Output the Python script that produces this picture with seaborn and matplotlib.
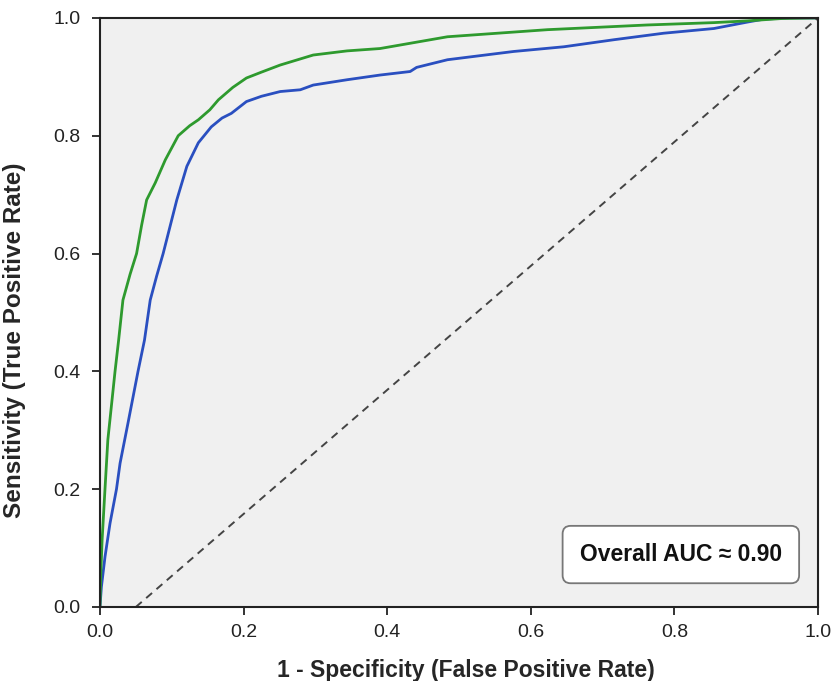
import numpy as np
import pandas as pd
import seaborn as sns
import matplotlib.pyplot as plt

# ROC points (FPR, TPR)
green_fpr = [0.0, 0.001, 0.003, 0.007, 0.011, 0.021, 0.026, 0.032, 0.042, 0.051, 0.058,
             0.065, 0.077, 0.091, 0.109, 0.125, 0.137, 0.153, 0.165, 0.185, 0.204,
             0.225, 0.251, 0.297, 0.344, 0.39, 0.484, 0.623, 0.762, 0.855, 0.902,
             0.95, 1.0]
green_tpr = [0.0, 0.05, 0.114, 0.2, 0.284, 0.4, 0.453, 0.521, 0.565, 0.6, 0.648,
             0.691, 0.72, 0.759, 0.8, 0.817, 0.827, 0.844, 0.861, 0.882, 0.898,
             0.908, 0.92, 0.937, 0.944, 0.948, 0.968, 0.98, 0.988, 0.992, 0.995,
             0.999, 1.0]

blue_fpr = [0.0, 0.002, 0.007, 0.014, 0.023, 0.028, 0.039, 0.053, 0.062, 0.07, 0.079,
            0.088, 0.107, 0.121, 0.137, 0.155, 0.17, 0.183, 0.204, 0.225, 0.251,
            0.279, 0.297, 0.344, 0.39, 0.432, 0.441, 0.484, 0.576, 0.646, 0.716,
            0.785, 0.855, 0.902, 0.925, 0.96, 1.0]
blue_tpr = [0.0, 0.034, 0.085, 0.142, 0.2, 0.244, 0.312, 0.4, 0.453, 0.521, 0.562,
            0.6, 0.691, 0.748, 0.788, 0.815, 0.83, 0.838, 0.858, 0.867, 0.875,
            0.878, 0.886, 0.895, 0.903, 0.909, 0.916, 0.929, 0.943, 0.951, 0.963,
            0.974, 0.982, 0.993, 0.998, 1.0, 1.0]

chance_fpr = [0.05, 1.0]
chance_tpr = [0.0, 1.0]

ticks = [0.0, 0.2, 0.4, 0.6, 0.8, 1.0]
auc_label = "Overall AUC \u2248 0.90"

sns.set_style("ticks")
plt.rcParams['font.family'] = ['Liberation Sans', 'DejaVu Sans']

fig = plt.figure(figsize=(8.33, 6.81), dpi=100)
ax = fig.add_axes([0.120, 0.1087, 0.862, 0.865])
ax.set_facecolor('#f0f0f0')

green_df = pd.DataFrame({'fpr': green_fpr, 'tpr': green_tpr})
blue_df = pd.DataFrame({'fpr': blue_fpr, 'tpr': blue_tpr})

sns.lineplot(data=blue_df, x='fpr', y='tpr', sort=False, color='#2a4fc0', lw=2, ax=ax)
sns.lineplot(data=green_df, x='fpr', y='tpr', sort=False, color='#2e9a2e', lw=2, ax=ax)
ax.plot(chance_fpr, chance_tpr, ls=(0, (4, 3)), color='#444444', lw=1.4)

ax.set_xlim(0, 1)
ax.set_ylim(0, 1)
ax.set_xticks(ticks)
ax.set_yticks(ticks)
ax.tick_params(labelsize=14, length=6, width=1.3, colors='#222222')
ax.tick_params(axis='x', pad=6)
ax.tick_params(axis='y', pad=8)
for s in ax.spines.values():
    s.set_linewidth(1.5)
    s.set_color('#222222')

ax.set_xlabel('1 - Specificity (False Positive Rate)', fontsize=16.5, fontweight='bold')
ax.set_ylabel('Sensitivity (True Positive Rate)', fontsize=17.5, fontweight='bold')
ax.xaxis.set_label_coords(0.51, -0.088)
ax.yaxis.set_label_coords(-0.103, 0.453)

ax.text(0.809, 0.089, auc_label, ha='center', va='center', fontsize=16.5, fontweight='bold',
        color='#111111',
        bbox=dict(boxstyle='round,pad=0.75,rounding_size=0.35', facecolor='white',
                  edgecolor='#777777', lw=1.3))

fig.savefig('out.png', dpi=100)
